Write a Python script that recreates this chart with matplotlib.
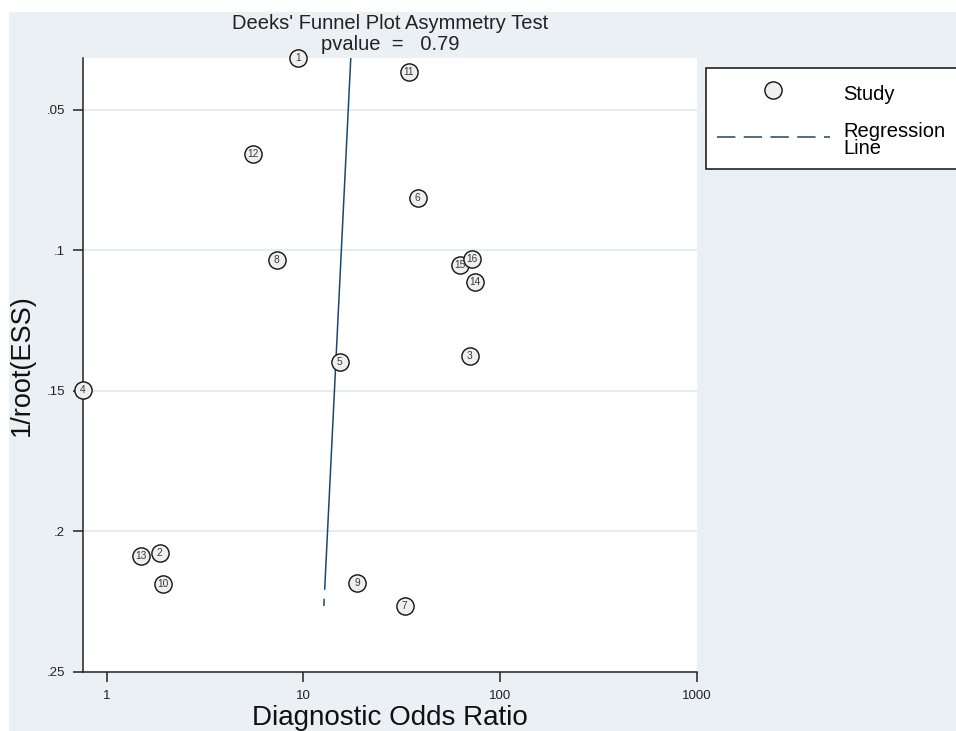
import matplotlib
matplotlib.use("Agg")
import matplotlib.pyplot as plt
from matplotlib.lines import Line2D
from matplotlib.patches import Rectangle
import numpy as np

plt.rcParams['font.family'] = ['Liberation Sans', 'DejaVu Sans']

# ---- data ----
study_ids = [1, 2, 3, 4, 5, 6, 7, 8, 9, 10, 11, 12, 13, 14, 15, 16]
dor = [9.36, 1.86, 70.1, 0.758, 15.3, 38.1, 32.7, 7.32, 18.7, 1.93, 34.3, 5.53, 1.49, 74.3, 62.4, 71.8]
inv_sqrt_ess = [0.0316, 0.2077, 0.1375, 0.1496, 0.1397, 0.0813, 0.2265, 0.1034, 0.2183,
                0.2187, 0.0365, 0.0657, 0.2087, 0.1112, 0.1052, 0.1030]
reg_y = [0.0316, 0.2265]
reg_dor = [17.4, 12.7]
pvalue = 0.79
x_ticks = [1, 10, 100, 1000]
x_ticklabels = ["1", "10", "100", "1000"]
y_ticks = [0.05, 0.10, 0.15, 0.20, 0.25]
y_ticklabels = [".05", ".1", ".15", ".2", ".25"]

BG = "#EAF0F3"
GRID = "#E3EBEF"
NAVY = "#1A476F"
MFC = "#EFEFEF"

W, H = 956, 731
fig = plt.figure(figsize=(W / 100, H / 100), dpi=100)
fig.patch.set_facecolor("white")
fig.patches.append(Rectangle((9 / W, 0), 1 - 9 / W, 1 - 12 / H, transform=fig.transFigure,
                             facecolor=BG, edgecolor="none", zorder=-10))

ax = fig.add_axes([83 / W, (H - 672) / H, (697 - 83) / W, (672 - 58) / H])
ax.set_facecolor("white")
ax.set_xscale("log")
ax.set_xlim(min(dor), 1000)
ax.set_ylim(max(y_ticks), min(inv_sqrt_ess))

for yv in y_ticks[:-1]:
    ax.axhline(yv, color=GRID, lw=1.3, zorder=0)

# regression line
ax.plot(reg_dor, reg_y, color=NAVY, lw=1.1, linestyle=(0, (348.5, 5.9)), zorder=2,
        solid_capstyle="butt")

# studies
for sid, xv, yv in zip(study_ids, dor, inv_sqrt_ess):
    ax.plot([xv], [yv], marker="o", ms=12.4, mfc=MFC, mec="#111111", mew=1.0,
            ls="none", clip_on=False, zorder=3)
    ax.annotate(str(sid), (xv, yv), ha="center", va="center", fontsize=7.3,
                color="#3A3A3A", zorder=4, annotation_clip=False)

ax.set_xticks(x_ticks)
ax.set_xticklabels(x_ticklabels)
ax.xaxis.set_minor_locator(matplotlib.ticker.NullLocator())
ax.set_yticks(y_ticks)
ax.set_yticklabels(y_ticklabels)
ax.tick_params(axis="both", direction="out", labelsize=9.5, colors="#222222",
               width=1.1, length=7.5, pad=5.5)

for s in ["top", "right"]:
    ax.spines[s].set_visible(False)
for s in ["left", "bottom"]:
    ax.spines[s].set_linewidth(1.1)
    ax.spines[s].set_color("#222222")

ax.set_xlabel("Diagnostic Odds Ratio", fontsize=20, color="#111111")
ax.xaxis.set_label_coords(0.5, (672 - 718) / 614)
ax.xaxis.label.set_va("center")
ax.set_ylabel("1/root(ESS)", fontsize=19.5, color="#111111")
ax.yaxis.set_label_coords((22 - 83) / 614, 0.5)
ax.yaxis.label.set_va("center")

ax.set_title("Deeks' Funnel Plot Asymmetry Test\npvalue  =   %.2f" % pvalue,
             fontsize=14.5, color="#222222", linespacing=1.1, pad=6)

handles = [
    Line2D([], [], marker="o", ms=12.4, mfc=MFC, mec="#111111", mew=1.0, ls="none"),
    Line2D([], [], color=NAVY, lw=1.1, dashes=(12, 5.5)),
]
leg = ax.legend(handles, ["Study", "Regression\nLine"], loc="upper left",
                bbox_to_anchor=(706 / W, 1 - 68 / H, 0.3, 0.0),
                bbox_transform=fig.transFigure, mode="expand", borderaxespad=0,
                fontsize=14.5, frameon=True, fancybox=False, framealpha=1,
                edgecolor="#111111", facecolor="white", borderpad=0.55,
                handlelength=5.6, handleheight=1.84, handletextpad=0.65,
                labelspacing=0.675)
leg.get_frame().set_linewidth(1.1)
leg.get_texts()[1].set_linespacing(0.9)

fig.savefig("out.png", dpi=100, facecolor=fig.get_facecolor())
